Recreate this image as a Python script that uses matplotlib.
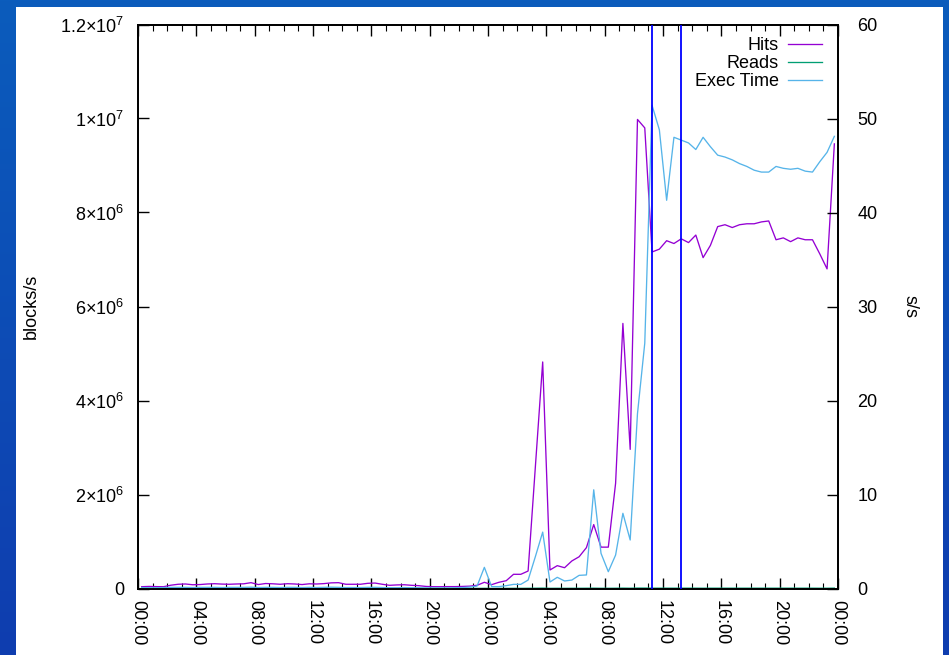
import numpy as np
import matplotlib
matplotlib.use('Agg')
import matplotlib.pyplot as plt
from matplotlib.patches import Rectangle
from matplotlib.ticker import MultipleLocator
from matplotlib.colors import LinearSegmentedColormap

plt.rcParams['font.family'] = ['Liberation Sans', 'DejaVu Sans']
plt.rcParams['mathtext.default'] = 'regular'

# ---------------- data ----------------
# sample times (hours since start of the 48 h window, half-hour samples)
times = np.arange(0.25, 48, 0.5)

hits = [3.8e4, 4.4e4, 4.0e4, 3.8e4, 7.0e4, 9.0e4, 9.6e4, 8.0e4, 8.4e4, 9.6e4,
        1.02e5, 9.4e4, 9.0e4, 9.6e4, 1.0e5, 1.24e5, 8.4e4, 1.06e5, 1.0e5, 9.0e4,
        1.02e5, 9.6e4, 8.4e4, 1.0e5, 9.6e4, 1.04e5, 1.2e5, 1.24e5, 9.0e4, 9.0e4,
        9.0e4, 1.1e5, 1.16e5, 9.0e4, 6.8e4, 7.6e4, 8.0e4, 6.8e4, 6.0e4, 4.4e4,
        3.8e4, 3.8e4, 4.0e4, 4.0e4, 4.4e4, 5.0e4, 6.8e4, 1.32e5, 8.2e4, 1.32e5,
        1.66e5, 3.02e5, 3.02e5, 3.72e5, 2.6e6, 4.82e6, 3.94e5, 4.86e5, 4.42e5, 5.86e5,
        6.76e5, 8.7e5, 1.36e6, 8.8e5, 8.8e5, 2.24e6, 5.64e6, 2.96e6, 9.98e6, 9.8e6,
        7.16e6, 7.22e6, 7.4e6, 7.34e6, 7.44e6, 7.36e6, 7.52e6, 7.04e6, 7.3e6, 7.7e6,
        7.74e6, 7.68e6, 7.74e6, 7.76e6, 7.76e6, 7.8e6, 7.82e6, 7.42e6, 7.46e6, 7.38e6,
        7.46e6, 7.42e6, 7.42e6, 7.12e6, 6.8e6, 9.46e6]

reads = [2e3, 2e3, 1e3, 1e3, 2e3, 3e3, 3e3, 2e3, 2e3, 3e3,
         3e3, 2e3, 2e3, 3e3, 3e3, 4e3, 2e3, 3e3, 3e3, 2e3,
         3e3, 3e3, 2e3, 3e3, 2e3, 3e3, 4e3, 4e3, 2e3, 2e3,
         2e3, 3e3, 3e3, 2e3, 2e3, 2e3, 2e3, 2e3, 1e3, 1e3,
         1e3, 1e3, 1e3, 1e3, 1e3, 2e3, 2e3, 4e3, 2e3, 3e3,
         3e3, 4e3, 4e3, 5e3, 6e3, 8e3, 4e3, 5e3, 4e3, 5e3,
         5e3, 6e3, 7e3, 5e3, 5e3, 6e3, 8e3, 6e3, 9e3, 9e3,
         7e3, 7e3, 7e3, 7e3, 7e3, 7e3, 7e3, 6e3, 7e3, 7e3,
         7e3, 7e3, 7e3, 7e3, 7e3, 7e3, 7e3, 7e3, 7e3, 7e3,
         7e3, 7e3, 7e3, 6e3, 6e3, 8e3]

exec_time = [0.10, 0.08, 0.08, 0.10, 0.12, 0.12, 0.12, 0.10, 0.12, 0.12,
             0.12, 0.10, 0.12, 0.12, 0.12, 0.14, 0.10, 0.12, 0.12, 0.10,
             0.12, 0.12, 0.10, 0.12, 0.10, 0.12, 0.14, 0.12, 0.10, 0.10,
             0.10, 0.12, 0.12, 0.10, 0.08, 0.08, 0.10, 0.08, 0.08, 0.06,
             0.06, 0.06, 0.06, 0.08, 0.10, 0.15, 0.26, 2.25, 0.20, 0.20,
             0.30, 0.44, 0.44, 0.90, 3.4, 6.0, 0.69, 1.19, 0.80, 0.90,
             1.40, 1.44, 10.5, 3.74, 1.79, 3.56, 8.0, 5.16, 18.6, 26.1,
             51.4, 48.8, 41.3, 48.0, 47.7, 47.4, 46.7, 48.0, 47.0, 46.1,
             45.9, 45.6, 45.2, 44.9, 44.5, 44.3, 44.3, 44.9, 44.7, 44.6,
             44.7, 44.4, 44.3, 45.4, 46.4, 48.1]

markers_h = [35.25, 37.25]

x_ticks = list(range(0, 49, 4))
x_tick_labels = ['00:00', '04:00', '08:00', '12:00', '16:00', '20:00', '00:00',
                 '04:00', '08:00', '12:00', '16:00', '20:00', '00:00']
y_ticks = [0, 2e6, 4e6, 6e6, 8e6, 1e7, 1.2e7]
y_tick_labels = ['0', r'$2{\times}10^{6}$', r'$4{\times}10^{6}$', r'$6{\times}10^{6}$',
                 r'$8{\times}10^{6}$', r'$1{\times}10^{7}$', r'$1.2{\times}10^{7}$']
y2_ticks = [0, 10, 20, 30, 40, 50, 60]

# ---------------- figure ----------------
W, H = 949, 655
fig = plt.figure(figsize=(W / 100, H / 100), dpi=100)

bg = fig.add_axes([0, 0, 1, 1], zorder=-10)
grad = np.linspace(0, 1, 256).reshape(-1, 1)
cmap = LinearSegmentedColormap.from_list('bg', ['#0b5cbc', '#0f3daf'])
bg.imshow(grad, aspect='auto', cmap=cmap, extent=[0, 1, 0, 1], origin='upper')
bg.add_patch(Rectangle((16 / W, 0), 927 / W, 648 / H, transform=bg.transAxes,
                       facecolor='white', edgecolor='none'))
bg.set_xlim(0, 1)
bg.set_ylim(0, 1)
bg.set_axis_off()

ax = fig.add_axes([138 / W, 66.5 / H, 700 / W, 564 / H])
ax.set_facecolor('white')

l1, = ax.plot(times, hits, color='#9400d3', lw=0.95, label='Hits')
l2, = ax.plot(times, reads, color='#009e73', lw=0.95, label='Reads')
ax.set_xlim(0, 48)
ax.set_ylim(0, 1.2e7)

ax2 = ax.twinx()
l3, = ax2.plot(times, exec_time, color='#56b4e9', lw=0.95, label='Exec Time')
ax2.set_ylim(0, 60)
for h in markers_h:
    ax2.axvline(h, color='#0000ff', lw=1.3, zorder=5)

ax.set_xticks(x_ticks)
ax.set_xticklabels(x_tick_labels, rotation=-90, fontsize=13)
ax.xaxis.set_minor_locator(MultipleLocator(1))
ax.tick_params(axis='x', which='major', direction='in', top=True, length=8, width=1, pad=8)
ax.tick_params(axis='x', which='minor', direction='in', top=True, length=4, width=0.8)

ax.set_yticks(y_ticks)
ax.set_yticklabels(y_tick_labels, fontsize=13)
ax.tick_params(axis='y', direction='in', length=8, width=1, pad=10)

ax2.set_yticks(y2_ticks)
ax2.set_yticklabels([str(v) for v in y2_ticks], fontsize=13)
ax2.tick_params(axis='y', direction='in', length=8, width=1, pad=14)

for a in (ax, ax2):
    for s in a.spines.values():
        s.set_linewidth(1.3)

ax.set_ylabel('blocks/s', fontsize=13)
ax.yaxis.set_label_coords(-0.14, 0.5)
ax2.set_ylabel('s/s', fontsize=13, rotation=-90, va='center')
ax2.yaxis.set_label_coords(1.103, 0.5)

ax2.legend([l1, l2, l3], ['Hits', 'Reads', 'Exec Time'], loc='upper right',
           bbox_to_anchor=(0.977, 0.978), frameon=False, markerfirst=False,
           handlelength=1.9, handletextpad=0.5, labelspacing=0.06, fontsize=13,
           borderpad=0, borderaxespad=0)

fig.savefig('out.png', dpi=100)
